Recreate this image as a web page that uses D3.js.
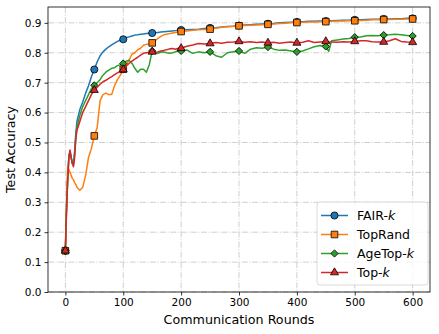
<!DOCTYPE html>
<html>
<head>
<meta charset="utf-8">
<script src="https://cdn.jsdelivr.net/npm/d3@7/dist/d3.min.js"></script>
<style>
  body { margin: 0; background: #fff; }
  svg { display: block; font-family: "DejaVu Sans", sans-serif; }
</style>
</head>
<body>
<svg id="chart" width="439" height="334"></svg>
<script>
const rounds = [0, 2, 4, 6, 8, 10, 12, 14, 16, 18, 20,
    25, 30, 35, 40, 45, 50, 55, 60, 65, 70, 75, 80, 85, 90, 95, 100,
    105, 110, 115, 120, 125, 130, 135, 140, 145, 150, 155, 160, 165, 170, 175, 180, 185, 190, 195, 200,
    210, 220, 230, 240, 250, 260, 270, 280, 290, 300, 310, 320, 330, 340, 350, 360, 370, 380, 390, 400,
    410, 420, 430, 440, 450, 455, 460, 470, 480, 490, 500, 510, 520, 530, 540, 550, 560, 570, 580, 590, 600];

const fairK = [0.138, 0.28, 0.38, 0.45, 0.47, 0.45, 0.43, 0.43, 0.47, 0.53, 0.57,
    0.61, 0.635, 0.665, 0.69, 0.72, 0.744, 0.77, 0.79, 0.803, 0.812, 0.82, 0.826, 0.832, 0.838, 0.842, 0.845,
    0.85, 0.853, 0.856, 0.859, 0.86, 0.862, 0.863, 0.864, 0.865, 0.866, 0.867, 0.868, 0.869, 0.87, 0.871, 0.872, 0.873, 0.874, 0.875, 0.876,
    0.877, 0.878, 0.879, 0.881, 0.883, 0.884, 0.886, 0.888, 0.889, 0.891, 0.893, 0.894, 0.895, 0.896, 0.897, 0.898, 0.9, 0.901, 0.902, 0.903,
    0.904, 0.905, 0.905, 0.906, 0.906, 0.907, 0.907, 0.908, 0.909, 0.909, 0.91, 0.91, 0.911, 0.912, 0.912, 0.913, 0.913, 0.914, 0.914, 0.915, 0.915];

const topRand = [0.138, 0.3, 0.42, 0.41, 0.40, 0.39, 0.38, 0.375, 0.365, 0.36, 0.35,
    0.34, 0.35, 0.39, 0.45, 0.48, 0.522, 0.55, 0.64, 0.66, 0.665, 0.66, 0.66, 0.69, 0.71, 0.725, 0.745,
    0.76, 0.775, 0.795, 0.80, 0.81, 0.815, 0.825, 0.828, 0.83, 0.833, 0.84, 0.848, 0.855, 0.86, 0.862, 0.864, 0.866, 0.868, 0.869, 0.871,
    0.873, 0.875, 0.877, 0.878, 0.879, 0.882, 0.885, 0.887, 0.889, 0.89, 0.891, 0.892, 0.893, 0.894, 0.895, 0.896, 0.898, 0.899, 0.9, 0.901,
    0.902, 0.903, 0.903, 0.904, 0.904, 0.905, 0.905, 0.906, 0.906, 0.907, 0.907, 0.908, 0.909, 0.91, 0.91, 0.911, 0.911, 0.912, 0.912, 0.913, 0.913];

const ageTopK = [0.138, 0.28, 0.38, 0.45, 0.47, 0.45, 0.43, 0.425, 0.46, 0.52, 0.55,
    0.59, 0.62, 0.64, 0.66, 0.68, 0.691, 0.70, 0.71, 0.725, 0.735, 0.742, 0.748, 0.75, 0.757, 0.76, 0.764,
    0.772, 0.775, 0.765, 0.748, 0.735, 0.745, 0.745, 0.735, 0.76, 0.806, 0.80, 0.798, 0.802, 0.803, 0.80, 0.798, 0.80, 0.803, 0.805, 0.806,
    0.809, 0.798, 0.803, 0.80, 0.803, 0.79, 0.785, 0.80, 0.803, 0.806, 0.798, 0.812, 0.817, 0.815, 0.819, 0.812, 0.808, 0.809, 0.806, 0.803,
    0.806, 0.813, 0.82, 0.824, 0.821, 0.805, 0.84, 0.843, 0.846, 0.848, 0.852, 0.853, 0.857, 0.858, 0.857, 0.859, 0.86, 0.862, 0.86, 0.858, 0.856];

const topK = [0.138, 0.27, 0.37, 0.45, 0.475, 0.45, 0.43, 0.419, 0.45, 0.51, 0.54,
    0.57, 0.60, 0.62, 0.64, 0.66, 0.675, 0.685, 0.695, 0.703, 0.708, 0.714, 0.72, 0.727, 0.733, 0.738, 0.744,
    0.755, 0.764, 0.772, 0.779, 0.785, 0.792, 0.798, 0.80, 0.802, 0.803, 0.80, 0.803, 0.806, 0.808, 0.81, 0.813, 0.814, 0.812, 0.815, 0.815,
    0.822, 0.826, 0.831, 0.829, 0.831, 0.834, 0.832, 0.835, 0.836, 0.838, 0.835, 0.837, 0.834, 0.836, 0.833, 0.835, 0.832, 0.834, 0.836, 0.833,
    0.835, 0.84, 0.834, 0.836, 0.838, 0.836, 0.836, 0.835, 0.837, 0.836, 0.838, 0.84, 0.84, 0.837, 0.836, 0.836, 0.84, 0.847, 0.838, 0.836, 0.835];

const seriesNames = ['FAIR-k', 'TopRand', 'AgeTop-k', 'Top-k'];
const seriesValues = [fairK, topRand, ageTopK, topK];
const colors = ['#1f77b4', '#ff7f0e', '#2ca02c', '#d62728'];
const xTicks = [0, 100, 200, 300, 400, 500, 600];
const yTicks = [0.0, 0.1, 0.2, 0.3, 0.4, 0.5, 0.6, 0.7, 0.8, 0.9];
const markEvery = 50;

const margin = {left: 48, top: 7, right: 430, bottom: 292};

const svg = d3.select('#chart');

const x = d3.scaleLinear().domain([-30, 630]).range([margin.left, margin.right]);
const y = d3.scaleLinear().domain([0, 0.953]).range([margin.bottom, margin.top]);

const symbols = [
    d3.symbol().type(d3.symbolCircle).size(40),
    d3.symbol().type(d3.symbolSquare).size(44),
    d3.symbol().type(d3.symbolSquare).size(26),
    d3.symbol().type(d3.symbolTriangle).size(28)
];
const rotations = [0, 0, 45, 0];

function drawGrid() {
    let g = svg.append('g').attr('class', 'grid');
    g.selectAll('line.gx')
        .data(xTicks)
        .enter().append('line')
        .attr('x1', d => x(d)).attr('x2', d => x(d))
        .attr('y1', margin.top).attr('y2', margin.bottom);
    g.selectAll('line.gy')
        .data(yTicks)
        .enter().append('line')
        .attr('x1', margin.left).attr('x2', margin.right)
        .attr('y1', d => y(d)).attr('y2', d => y(d));
    g.selectAll('line')
        .attr('stroke', '#cfcfcf')
        .attr('stroke-width', 1)
        .attr('stroke-dasharray', '6,1.6,1,1.6');
}

function drawAxes() {
    let xAxis = d3.axisBottom(x).tickValues(xTicks).tickSize(3.5).tickPadding(3).tickFormat(d3.format('d'));
    let yAxis = d3.axisLeft(y).tickValues(yTicks).tickSize(3.5).tickPadding(3).tickFormat(d3.format('.1f'));

    svg.append('g')
        .attr('transform', 'translate(0,' + margin.bottom + ')')
        .call(xAxis);
    svg.append('g')
        .attr('transform', 'translate(' + margin.left + ',0)')
        .call(yAxis);

    svg.selectAll('.tick text')
        .style('font-size', '10.5px')
        .style('font-family', '"DejaVu Sans", sans-serif')
        .attr('fill', '#000');
    svg.selectAll('.tick line').attr('stroke', '#000').attr('stroke-width', 0.8);
    svg.selectAll('.domain').remove();

    // box round the plot
    svg.append('rect')
        .attr('x', margin.left).attr('y', margin.top)
        .attr('width', margin.right - margin.left)
        .attr('height', margin.bottom - margin.top)
        .attr('fill', 'none')
        .attr('stroke', '#000')
        .attr('stroke-width', 0.8);

    svg.append('text')
        .attr('x', (margin.left + margin.right) / 2)
        .attr('y', 324)
        .attr('text-anchor', 'middle')
        .style('font-size', '12.7px')
        .text('Communication Rounds');

    svg.append('text')
        .attr('transform', 'translate(15,' + (margin.top + margin.bottom) / 2 + ') rotate(-90)')
        .attr('text-anchor', 'middle')
        .style('font-size', '12.7px')
        .text('Test Accuracy');
}

function drawSeries() {
    let line = d3.line()
        .x((d, i) => x(rounds[i]))
        .y(d => y(d));

    for (let s = 0; s < seriesValues.length; s++) {
        let g = svg.append('g');
        g.append('path')
            .datum(seriesValues[s])
            .attr('fill', 'none')
            .attr('stroke', colors[s])
            .attr('stroke-width', 1.5)
            .attr('stroke-linejoin', 'round')
            .attr('d', line);

        let marks = [];
        for (let i = 0; i < rounds.length; i++) {
            if (rounds[i] % markEvery === 0) {
                marks.push({r: rounds[i], v: seriesValues[s][i]});
            }
        }
        g.selectAll('path.mark')
            .data(marks)
            .enter().append('path')
            .attr('class', 'mark')
            .attr('transform', d => 'translate(' + x(d.r) + ',' + y(d.v) + ') rotate(' + rotations[s] + ')')
            .attr('d', symbols[s])
            .attr('fill', colors[s])
            .attr('stroke', '#000')
            .attr('stroke-width', 0.8);
    }
}

function drawLegend() {
    let lg = svg.append('g').attr('transform', 'translate(317,202)');
    lg.append('rect')
        .attr('width', 111).attr('height', 83)
        .attr('rx', 3)
        .attr('fill', '#fff').attr('fill-opacity', 0.8)
        .attr('stroke', '#d0d0d0').attr('stroke-width', 0.8);

    for (let s = 0; s < seriesNames.length; s++) {
        let cy = 13.5 + 19 * s;
        lg.append('line')
            .attr('x1', 4).attr('x2', 31)
            .attr('y1', cy).attr('y2', cy)
            .attr('stroke', colors[s]).attr('stroke-width', 1.5);
        lg.append('path')
            .attr('transform', 'translate(17.5,' + cy + ') rotate(' + rotations[s] + ')')
            .attr('d', symbols[s])
            .attr('fill', colors[s])
            .attr('stroke', '#000').attr('stroke-width', 0.8);

        let parts = seriesNames[s].split('-');
        let t = lg.append('text')
            .attr('x', 40).attr('y', cy + 4.5)
            .style('font-size', '12.5px');
        t.append('tspan').text(parts[0] + (parts.length > 1 ? '-' : ''));
        if (parts.length > 1) {
            t.append('tspan').style('font-style', 'italic').text(parts[1]);
        }
    }
}

drawGrid();
drawSeries();
drawAxes();
drawLegend();
</script>
</body>
</html>
